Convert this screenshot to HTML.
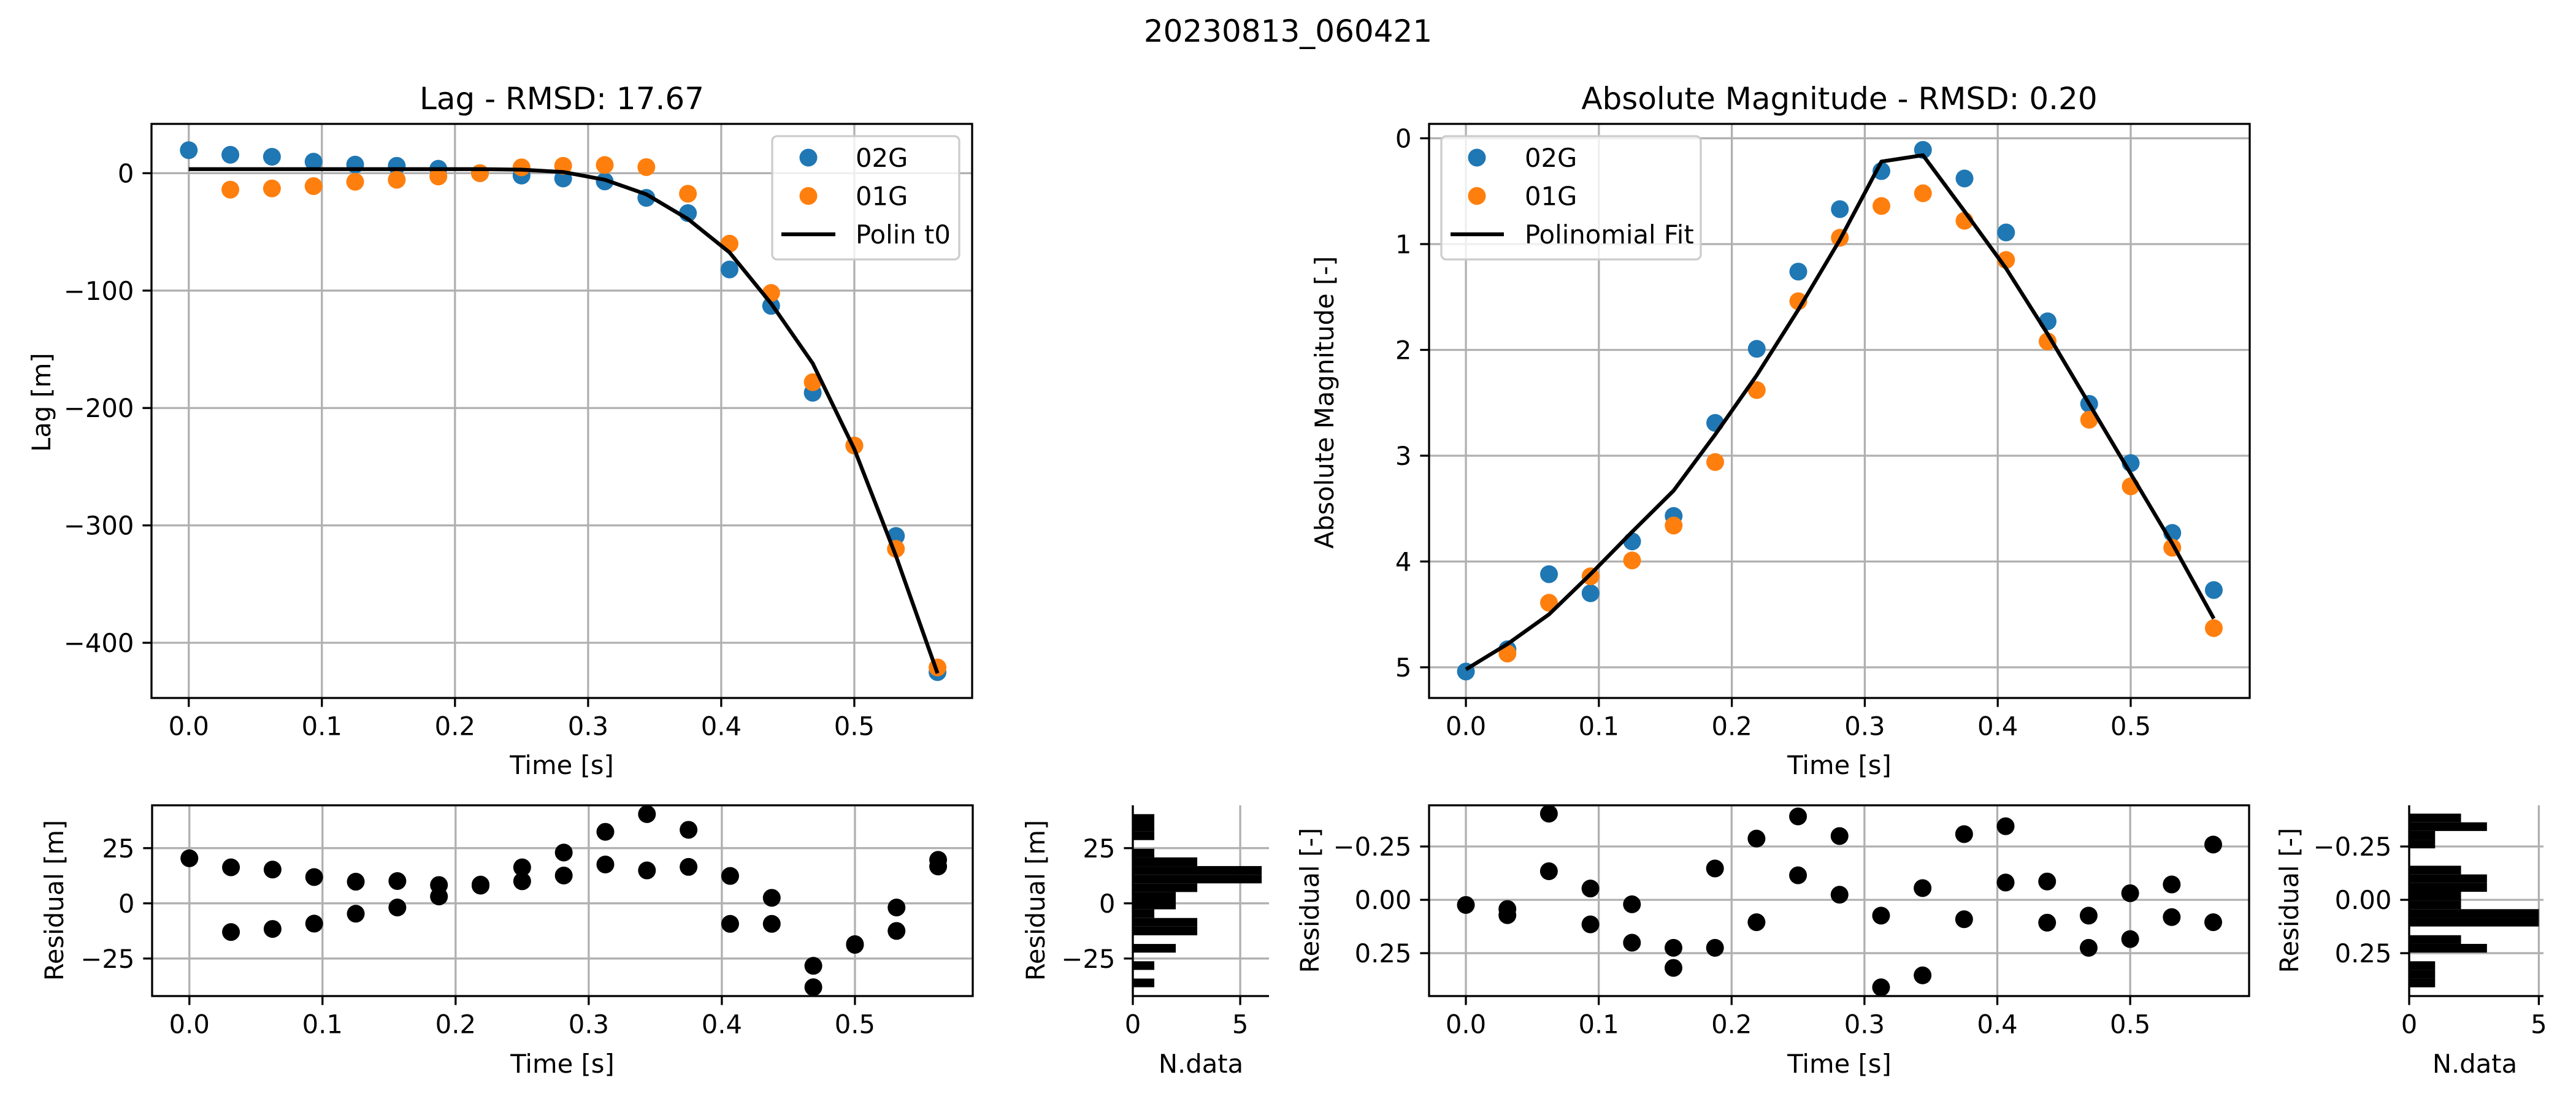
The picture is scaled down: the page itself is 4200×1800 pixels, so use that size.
<!DOCTYPE html>
<html><head><meta charset="utf-8">
<style>
html,body{margin:0;padding:0;background:#fff;}
svg{display:block;font-family:"DejaVu Sans","Liberation Sans",sans-serif;}
</style></head>
<body>
<svg id="fig" width="4200" height="1800" viewBox="0 0 4200 1800" xmlns="http://www.w3.org/2000/svg">
<rect width="4200" height="1800" fill="#fff"/>
<text x="2100" y="68" font-size="50" text-anchor="middle">20230813_060421</text>
</svg>
<script>
// ---- data ----
const timeValues = [0,0.03125,0.0625,0.09375,0.125,0.15625,0.1875,0.21875,0.25,0.28125,0.3125,0.34375,0.375,0.40625,0.4375,0.46875,0.5,0.53125,0.5625];
const lag02G = [19.6,15.7,14,9.8,7.3,6.3,3.8,0,-2,-4.5,-7,-21,-34,-82,-113,-187,-232,-309,-425];
const lag01G = [null,-14,-13,-11,-7.3,-5.6,-2.8,0,5,6.3,7,5.2,-17.5,-60,-102,-178,-232,-320,-421];
const lagFit = [3.5,3.5,3.5,3.5,3.5,3.5,3.5,3.5,3,1,-5.6,-18,-39,-67.5,-111,-162,-235,-326,-426];
const mag02G = [5.04,4.83,4.12,4.30,3.81,3.57,2.69,1.99,1.26,0.67,0.31,0.11,0.38,0.89,1.73,2.51,3.07,3.73,4.27];
const mag01G = [null,4.87,4.39,4.14,3.99,3.66,3.06,2.38,1.54,0.94,0.64,0.52,0.78,1.15,1.92,2.66,3.29,3.87,4.63];
const magFit = [5.02,4.78,4.5,4.12,3.72,3.33,2.8,2.24,1.62,0.96,0.22,0.16,0.69,1.23,1.85,2.51,3.17,3.83,4.54];
const lagResA = [20.4,16.3,15.3,11.9,9.8,10.1,8.3,8.5,16.3,23,32.4,40.4,33.3,12.4,2.5,-28.3,-18.8,-1.9,19.7];
const lagResB = [null,-13,-11.6,-9.2,-4.7,-1.9,3.1,8,10,12.6,17.6,14.9,16.5,-9.3,-9.3,-38,-18.5,-12.5,16.7];
const magResA = [0.024,0.043,-0.404,-0.053,0.021,0.225,-0.147,-0.287,-0.391,-0.299,0.074,-0.055,-0.308,-0.345,-0.086,0.074,-0.031,-0.072,-0.259];
const magResB = [null,0.072,-0.134,0.115,0.201,0.319,0.225,0.105,-0.115,-0.024,0.41,0.354,0.091,-0.081,0.107,0.225,0.184,0.081,0.105];
const lagHistStart = -38, lagHistWidth = 3.92;
const lagHistCounts = [1,0,1,0,2,0,3,3,1,2,2,3,6,6,3,1,0,1,1,1];
const magHistStart = -0.404, magHistWidth = 0.0407;
const magHistCounts = [2,3,1,1,0,0,2,3,3,2,2,5,5,0,2,3,0,1,1,1];
const timeTicks = [0,0.1,0.2,0.3,0.4,0.5];
const lagTicks = [-400,-300,-200,-100,0];
const magTicks = [0,1,2,3,4,5];
const lagResTicks = [-25,0,25];
const magResTicks = [-0.25,0,0.25];
const histTicks = [0,5];

// ---- helpers ----
const NS='http://www.w3.org/2000/svg';
const svg=document.getElementById('fig');
function mk(tag,attrs,parent){const e=document.createElementNS(NS,tag);for(const k in attrs)e.setAttribute(k,attrs[k]);(parent||svg).appendChild(e);return e;}
function sx(a,v){return a.L+(v-a.x0)/(a.x1-a.x0)*(a.R-a.L);}
function sy(a,v){return a.B-(v-a.y0)/(a.y1-a.y0)*(a.B-a.T);}
function fmt(v,d){let s=v.toFixed(d);if(v<0)s='\u2212'+s.slice(1);return s;}
const TK=14.6, SW=3.3, FS=41.7, MR=14.5;

function axesFrame(a,name,xt,xd,yt,yd,spines){
  const g=mk('g',{});
  
  
  a.g=g;
  xt.forEach(v=>{const x=sx(a,v);
    const gl=mk('line',{x1:x,x2:x,y1:a.T,y2:a.B,stroke:'#b0b0b0','stroke-width':SW},g);
    
    mk('line',{x1:x,x2:x,y1:a.B,y2:a.B+TK,stroke:'#000','stroke-width':SW},g);
    const t=mk('text',{x:x,y:a.B+TK+14+FS*0.76,'font-size':FS,'text-anchor':'middle'},g);
    
    t.textContent=fmt(v,xd);});
  yt.forEach(v=>{const y=sy(a,v);
    const gl=mk('line',{x1:a.L,x2:a.R,y1:y,y2:y,stroke:'#b0b0b0','stroke-width':SW},g);
    
    mk('line',{x1:a.L-TK,x2:a.L,y1:y,y2:y,stroke:'#000','stroke-width':SW},g);
    const t=mk('text',{x:a.L-TK-14,y:y+FS*0.36,'font-size':FS,'text-anchor':'end'},g);
    
    t.textContent=fmt(v,yd);});
  a.spines=spines;
}
function drawSpines(a){
  const g=a.g;
  if(a.spines==='all'){const r=mk('rect',{x:a.L,y:a.T,width:a.R-a.L,height:a.B-a.T,fill:'none',stroke:'#000','stroke-width':SW},g);
    }
  else{mk('line',{x1:a.L,x2:a.L,y1:a.T,y2:a.B,stroke:'#000','stroke-width':SW},g);
    mk('line',{x1:a.L,x2:a.R,y1:a.B,y2:a.B,stroke:'#000','stroke-width':SW},g);}
}
function scatter(a,xs,ys,color,name){
  xs.forEach((t,i)=>{if(ys[i]===null)return;
    const c=mk('circle',{cx:sx(a,t),cy:sy(a,ys[i]),r:MR,fill:color},a.g);
    
    });
}
function line(a,xs,ys,name){
  const p=mk('polyline',{points:xs.map((t,i)=>sx(a,t)+','+sy(a,ys[i])).join(' '),fill:'none',stroke:'#000','stroke-width':6.25,'stroke-linejoin':'round'},a.g);
  
  
}
function hbars(a,start,w,counts,name){
  counts.forEach((c,i)=>{if(!c)return;
    const y1=sy(a,start+i*w), y2=sy(a,start+(i+1)*w);
    const r=mk('rect',{x:sx(a,0),y:Math.min(y1,y2),width:sx(a,c)-sx(a,0),height:Math.abs(y2-y1),fill:'#000'},a.g);
    
    });
}
function label(txt,x,y,rot,size,name){
  const t=mk('text',{x:x,y:y,'font-size':size,'text-anchor':'middle'});
  if(rot)t.setAttribute('transform','rotate(-90 '+x+' '+y+')');
  
  
  t.textContent=txt;
}
function legend(bx,by,bw,bh,mx,lx1,lx2,tx,rows,name){
  const g=mk('g',{});
  
  
  mk('rect',{x:bx,y:by,width:bw,height:bh,rx:8,fill:'#fff','fill-opacity':0.8,stroke:'#cccccc','stroke-width':SW},g);
  rows.forEach((r,i)=>{const y=257+i*62.5;
    if(r.c){mk('circle',{cx:mx,cy:y,r:MR,fill:r.c},g);}
    else{mk('line',{x1:lx1,x2:lx2,y1:y,y2:y,stroke:'#000','stroke-width':6.25},g);}
    const t=mk('text',{x:tx,y:y+15,'font-size':FS},g);
    
    t.textContent=r.t;});
}

// ---- Lag main ----
const A1={L:247,R:1585,T:202,B:1138,x0:-0.028,x1:0.5885,y0:-447,y1:42};
axesFrame(A1,'lag-axes',timeTicks,1,lagTicks,0,'all');
scatter(A1,timeValues,lag02G,'#1f77b4','lag-point-02G');
scatter(A1,timeValues,lag01G,'#ff7f0e','lag-point-01G');
line(A1,timeValues,lagFit,'lag-fit-line');
drawSpines(A1);
legend(1259,222,305,201,1318,1274,1362,1395,[{c:'#1f77b4',t:'02G'},{c:'#ff7f0e',t:'01G'},{t:'Polin t0'}],'lag-legend');
label('Lag - RMSD: 17.67',916,178,false,50,'lag-title');
label('Time [s]',916,1262,false,FS,'lag-x-axis-title');
label('Lag [m]',82,656,true,FS,'lag-y-axis-title');

// ---- Magnitude main ----
const A2={L:2330,R:3668,T:202,B:1138,x0:-0.0277,x1:0.5895,y0:5.29,y1:-0.136};
axesFrame(A2,'magnitude-axes',timeTicks,1,magTicks,0,'all');
scatter(A2,timeValues,mag02G,'#1f77b4','mag-point-02G');
scatter(A2,timeValues,mag01G,'#ff7f0e','mag-point-01G');
line(A2,timeValues,magFit,'mag-fit-line');
drawSpines(A2);
legend(2350,222,423,201,2408,2365,2452,2486,[{c:'#1f77b4',t:'02G'},{c:'#ff7f0e',t:'01G'},{t:'Polinomial Fit'}],'mag-legend');
label('Absolute Magnitude - RMSD: 0.20',2999,178,false,50,'mag-title');
label('Time [s]',2999,1262,false,FS,'mag-x-axis-title');
label('Absolute Magnitude [-]',2174,656,true,FS,'mag-y-axis-title');

// ---- Lag residual ----
const A3={L:248,R:1586,T:1313,B:1624,x0:-0.028,x1:0.5885,y0:-42,y1:44.4};
axesFrame(A3,'lag-residual-axes',timeTicks,1,lagResTicks,0,'all');
scatter(A3,timeValues,lagResA,'#000','lag-residual-point');
scatter(A3,timeValues,lagResB,'#000','lag-residual-point');
drawSpines(A3);
label('Time [s]',917,1749,false,FS,'lag-residual-x-axis-title');
label('Residual [m]',103,1468,true,FS,'lag-residual-y-axis-title');

// ---- Lag histogram ----
const A4={L:1847,R:2069,T:1313,B:1624,x0:0,x1:6.34,y0:-42,y1:44.4};
axesFrame(A4,'lag-histogram-axes',histTicks,0,lagResTicks,0,'lb');
hbars(A4,lagHistStart,lagHistWidth,lagHistCounts,'lag-histogram-bar');
drawSpines(A4);
label('N.data',1958,1749,false,FS,'lag-histogram-x-axis-title');
label('Residual [m]',1703,1468,true,FS,'lag-histogram-y-axis-title');

// ---- Magnitude residual ----
const A5={L:2330,R:3667,T:1313,B:1624,x0:-0.0277,x1:0.5895,y0:0.451,y1:-0.443};
axesFrame(A5,'mag-residual-axes',timeTicks,1,magResTicks,2,'all');
scatter(A5,timeValues,magResA,'#000','mag-residual-point');
scatter(A5,timeValues,magResB,'#000','mag-residual-point');
drawSpines(A5);
label('Time [s]',2999,1749,false,FS,'mag-residual-x-axis-title');
label('Residual [-]',2150,1468,true,FS,'mag-residual-y-axis-title');

// ---- Magnitude histogram ----
const A6={L:3928,R:4147,T:1313,B:1624,x0:0,x1:5.18,y0:0.451,y1:-0.443};
axesFrame(A6,'mag-histogram-axes',histTicks,0,magResTicks,2,'lb');
hbars(A6,magHistStart,magHistWidth,magHistCounts,'mag-histogram-bar');
drawSpines(A6);
label('N.data',4035,1749,false,FS,'mag-histogram-x-axis-title');
label('Residual [-]',3747,1468,true,FS,'mag-histogram-y-axis-title');
</script>
</body></html>
